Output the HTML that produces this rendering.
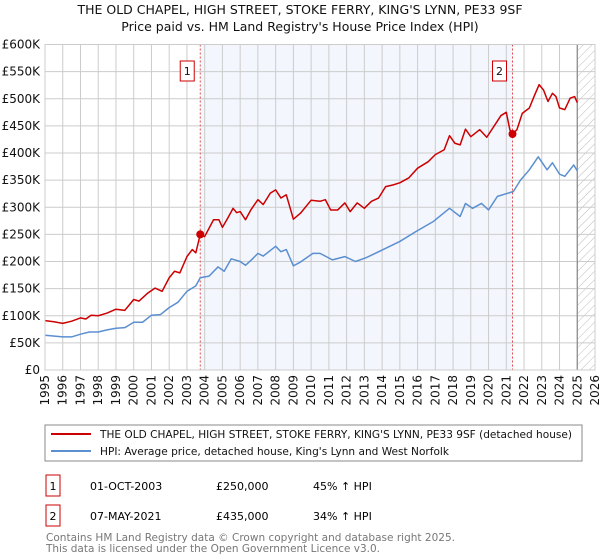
<!DOCTYPE html>
<html><head><meta charset="utf-8"><style>
body{margin:0;background:#fff;}
svg{display:block;font-family:"DejaVu Sans","Liberation Sans",sans-serif;}
</style></head><body>
<svg id="c" width="600" height="560" viewBox="0 0 600 560" xmlns="http://www.w3.org/2000/svg">
<text x="300" y="14" text-anchor="middle" font-size="12.5" fill="#111">THE OLD CHAPEL, HIGH STREET, STOKE FERRY, KING'S LYNN, PE33 9SF</text>
<text x="300" y="31" text-anchor="middle" font-size="12.5" fill="#111">Price paid vs. HM Land Registry's House Price Index (HPI)</text>
<defs><pattern id="hatch" width="6" height="6" patternUnits="userSpaceOnUse" patternTransform="rotate(45)"><line x1="0" y1="0" x2="0" y2="6" stroke="#bbb" stroke-width="1"/></pattern></defs>
<g id="plot"></g>
<rect x="45" y="425" width="537" height="36" fill="#fff" stroke="#888"/>
<line x1="51" y1="434" x2="91" y2="434" stroke="#cc0000" stroke-width="2"/>
<text x="100" y="438" font-size="10.6" fill="#111" textLength="472" lengthAdjust="spacingAndGlyphs">THE OLD CHAPEL, HIGH STREET, STOKE FERRY, KING'S LYNN, PE33 9SF (detached house)</text>
<line x1="51" y1="451" x2="91" y2="451" stroke="#5b8fd0" stroke-width="2"/>
<text x="100" y="455" font-size="10.6" fill="#111" textLength="349" lengthAdjust="spacingAndGlyphs">HPI: Average price, detached house, King's Lynn and West Norfolk</text>
<g>
<rect x="46" y="475" width="14" height="21" fill="#fff" stroke="#cc0000"/>
<text x="53" y="490" text-anchor="middle" font-size="11">1</text>
<text x="90" y="490" font-size="11">01-OCT-2003</text>
<text x="216" y="490" font-size="11">£250,000</text>
<text x="313" y="490" font-size="11">45% ↑ HPI</text></g>
<g>
<rect x="46" y="505" width="14" height="21" fill="#fff" stroke="#cc0000"/>
<text x="53" y="520" text-anchor="middle" font-size="11">2</text>
<text x="90" y="520" font-size="11">07-MAY-2021</text>
<text x="216" y="520" font-size="11">£435,000</text>
<text x="313" y="520" font-size="11">34% ↑ HPI</text></g>
<text x="46" y="541" font-size="11" fill="#777" textLength="409" lengthAdjust="spacingAndGlyphs">Contains HM Land Registry data © Crown copyright and database right 2025.</text>
<text x="46" y="552" font-size="11" fill="#777" textLength="334" lengthAdjust="spacingAndGlyphs">This data is licensed under the Open Government Licence v3.0.</text>
</svg>
<script>
const yTicks=[0,50,100,150,200,250,300,350,400,450,500,550,600];
const yLabels=["£0","£50K","£100K","£150K","£200K","£250K","£300K","£350K","£400K","£450K","£500K","£550K","£600K"];
const years=[1995,1996,1997,1998,1999,2000,2001,2002,2003,2004,2005,2006,2007,2008,2009,2010,2011,2012,2013,2014,2015,2016,2017,2018,2019,2020,2021,2022,2023,2024,2025,2026];
const hpiT=[1995,1996,1996.5,1997,1997.5,1998,1998.5,1999,1999.5,2000,2000.5,2001,2001.5,2002,2002.5,2003,2003.5,2003.75,2004.25,2004.75,2005.1,2005.5,2006,2006.3,2006.7,2007,2007.3,2008,2008.3,2008.6,2009,2009.4,2010.1,2010.5,2011.2,2011.9,2012.5,2013.1,2014,2015,2015.9,2016.9,2017.8,2018.4,2018.7,2019.1,2019.6,2020,2020.5,2021.4,2021.8,2022.3,2022.8,2023.3,2023.6,2024,2024.3,2024.8,2025];
const hpiV=[64,61,61,66,70,70,74,77,78,88,88,101,102,115,125,145,155,170,173,190,182,205,200,193,205,215,210,228,218,222,192,199,215,215,203,209,200,207,221,237,255,274,298,283,307,298,307,295,320,329,350,369,393,369,382,361,357,378,367];
const propT=[1995,1995.5,1996,1996.5,1997,1997.3,1997.6,1998,1998.5,1999,1999.5,2000,2000.3,2000.8,2001.2,2001.6,2002,2002.3,2002.6,2003,2003.3,2003.5,2003.75,2004,2004.5,2004.8,2005,2005.3,2005.6,2005.8,2006,2006.3,2006.6,2007,2007.3,2007.7,2008,2008.3,2008.6,2009,2009.4,2010,2010.5,2010.8,2011.1,2011.5,2011.9,2012.2,2012.6,2013,2013.4,2013.8,2014.2,2014.6,2015,2015.5,2016,2016.3,2016.6,2017,2017.5,2017.8,2018.1,2018.4,2018.7,2019,2019.5,2019.9,2020.3,2020.7,2021,2021.2,2021.35,2021.6,2021.9,2022.3,2022.6,2022.85,2023.1,2023.35,2023.6,2023.8,2024,2024.3,2024.6,2024.85,2025];
const propV=[91,89,86,90,96,94,101,100,105,112,110,130,127,142,151,145,170,182,179,209,222,216,250,246,277,277,263,280,298,290,292,277,295,314,305,326,332,317,323,278,289,313,311,314,295,295,308,292,308,298,311,317,338,341,345,354,372,378,384,397,406,432,418,415,444,430,443,429,449,469,475,443,435,443,473,483,507,526,516,495,510,504,483,480,501,504,493];
const saleT=[2003.75,2021.35];
const saleV=[250,435];
const saleLabels=["1","2"];
const X0=45,X1=595,Y0=370,Y1=44.5;
const xs=t=>X0+(t-1995)/(2026-1995)*(X1-X0);
const ys=v=>Y0-v/600*(Y0-Y1);
const NS="http://www.w3.org/2000/svg";
const g=document.getElementById('plot');
function mk(tag,at,parent){const e=document.createElementNS(NS,tag);for(const k in at)e.setAttribute(k,at[k]);(parent||g).appendChild(e);return e;}
const bg=mk('rect',{x:xs(saleT[0]),y:Y1,width:xs(saleT[1])-xs(saleT[0]),height:Y0-Y1,fill:'#f3f6fd'});


const ht=mk('rect',{x:xs(2025.0),y:Y1,width:X1-xs(2025.0),height:Y0-Y1,fill:'url(#hatch)'});


yTicks.forEach((v,i)=>{
 const l=mk('line',{x1:X0,x2:X1,y1:ys(v),y2:ys(v),stroke:'#ccc','stroke-width':1});
 
 
 const t=mk('text',{x:40,y:ys(v)+4,'text-anchor':'end','font-size':12,fill:'#111'});
 t.textContent=yLabels[i];
 
 
});
years.forEach(y=>{
 const l=mk('line',{x1:xs(y),x2:xs(y),y1:Y1,y2:Y0,stroke:'#ccc','stroke-width':1});
 
 
 const t=mk('text',{x:0,y:0,'text-anchor':'end','font-size':12,fill:'#111',transform:`translate(${xs(y)+4},375) rotate(-90)`});
 t.textContent=y;
 
 
});
const el=mk('line',{x1:xs(2025.0),x2:xs(2025.0),y1:Y1,y2:Y0,stroke:'#888','stroke-width':1.2});


saleT.forEach((t,i)=>{
 const l=mk('line',{x1:xs(t),x2:xs(t),y1:Y1,y2:Y0,stroke:'#e05050','stroke-width':1,'stroke-dasharray':'2,2'});
 
 
 const b=mk('rect',{x:xs(t)-20,y:61,width:14,height:20,fill:'#fff',stroke:'#cc0000'});
 
 
 const tx=mk('text',{x:xs(t)-13,y:75,'text-anchor':'middle','font-size':11,fill:'#111'});
 tx.textContent=saleLabels[i];
 
 
});
const hp=mk('polyline',{points:hpiT.map((t,i)=>xs(t)+','+ys(hpiV[i])).join(' '),fill:'none',stroke:'#5b8fd0','stroke-width':1.5,'stroke-linejoin':'round'});


const pp=mk('polyline',{points:propT.map((t,i)=>xs(t)+','+ys(propV[i])).join(' '),fill:'none',stroke:'#cc0000','stroke-width':1.5,'stroke-linejoin':'round'});


saleT.forEach((t,i)=>{
 const c=mk('circle',{cx:xs(t),cy:ys(saleV[i]),r:4,fill:'#cc0000'});
 
 
});
const fr=mk('rect',{x:X0,y:Y1,width:X1-X0,height:Y0-Y1,fill:'none',stroke:'#ccc'});


</script>
</body></html>
